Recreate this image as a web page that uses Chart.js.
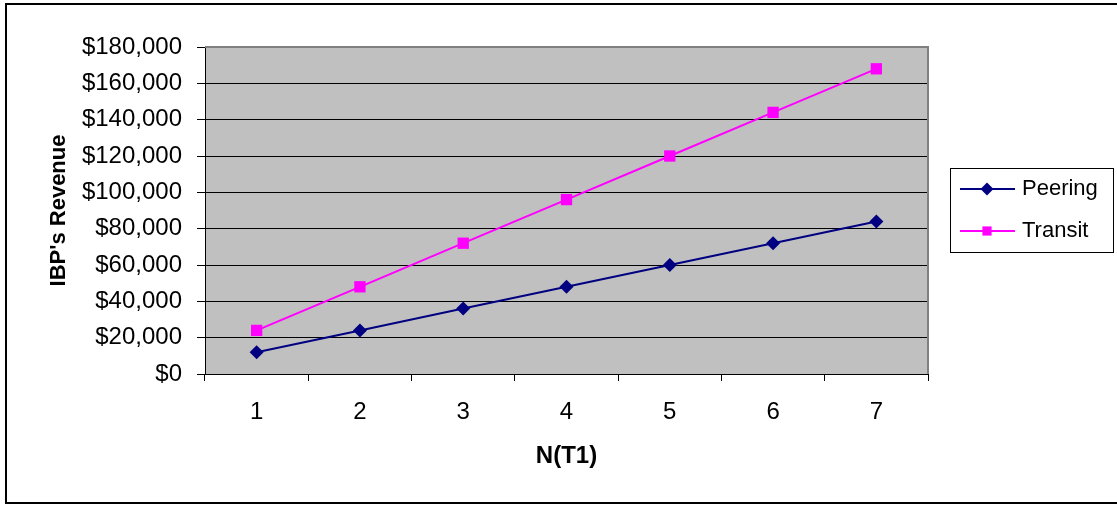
<!DOCTYPE html>
<html>
<head>
<meta charset="utf-8">
<style>
  html, body { margin: 0; padding: 0; background: #fff; }
  #wrap { width: 1117px; height: 506px; position: relative; }
</style>
<script src="https://cdn.jsdelivr.net/npm/chart.js@4/dist/chart.umd.min.js"></script>
</head>
<body>
<div id="wrap"><canvas id="c" width="1117" height="506"></canvas></div>
<script>
// Revenue per number of tier-1 connections
const categories = ['1', '2', '3', '4', '5', '6', '7'];
const peering = [12000, 24000, 36000, 48000, 60000, 72000, 84000];
const transit = [24000, 48000, 72000, 96000, 120000, 144000, 168000];
const yTicks = [0, 20000, 40000, 60000, 80000, 100000, 120000, 140000, 160000, 180000];

const FONT = "'Liberation Sans', Arial, sans-serif";

const fmtMoney = v => '$' + Number(v).toLocaleString('en-US');

// Plot background, outer frame and plot border
const framePlugin = {
  id: 'frame',
  beforeDraw(chart) {
    const {ctx, chartArea: a} = chart;
    ctx.save();
    ctx.fillStyle = '#fff';
    ctx.fillRect(0, 0, chart.width, chart.height);
    ctx.strokeStyle = '#000';
    ctx.lineWidth = 2;
    ctx.strokeRect(6, 4, chart.width + 20, 499);
    ctx.fillStyle = '#C0C0C0';
    ctx.fillRect(a.left, a.top, a.right - a.left, a.bottom - a.top);
    ctx.restore();
  },
  beforeDatasetsDraw(chart) {
    const {ctx, chartArea: a} = chart;
    ctx.save();
    ctx.strokeStyle = '#808080';
    ctx.lineWidth = 2;
    ctx.beginPath();
    ctx.moveTo(a.left, a.top);
    ctx.lineTo(a.right, a.top);
    ctx.lineTo(a.right, a.bottom);
    ctx.stroke();
    ctx.restore();
  }
};

// Boxed legend with line + marker samples
const boxLegend = {
  id: 'boxLegend',
  afterDraw(chart) {
    const {ctx} = chart;
    const x0 = 950.5, y0 = 168.5, w = 163, h = 84;
    ctx.save();
    ctx.fillStyle = '#fff';
    ctx.fillRect(x0, y0, w, h);
    ctx.strokeStyle = '#000';
    ctx.lineWidth = 1;
    ctx.strokeRect(x0, y0, w, h);
    chart.data.datasets.forEach((ds, i) => {
      const cy = 189 + i * 42;
      ctx.strokeStyle = ds.borderColor;
      ctx.lineWidth = 2;
      ctx.beginPath();
      ctx.moveTo(960, cy);
      ctx.lineTo(1015, cy);
      ctx.stroke();
      ctx.fillStyle = ds.pointBackgroundColor;
      ctx.strokeStyle = ds.pointBackgroundColor;
      Chart.helpers.drawPoint(ctx, {
        pointStyle: ds.pointStyle, radius: ds.legendRadius, rotation: 0, borderWidth: 0
      }, 987, cy);
      ctx.fillStyle = '#000';
      ctx.font = '22px ' + FONT;
      ctx.textAlign = 'left';
      ctx.textBaseline = 'middle';
      ctx.fillText(ds.label, 1022, cy);
    });
    ctx.restore();
  }
};

new Chart(document.getElementById('c'), {
  type: 'line',
  data: {
    labels: categories,
    datasets: [
      {
        label: 'Peering',
        data: peering,
        borderColor: '#000080',
        backgroundColor: '#000080',
        pointBackgroundColor: '#000080',
        pointBorderColor: '#000080',
        borderWidth: 2,
        pointStyle: 'rectRot',
        pointRadius: 7,
        pointBorderWidth: 0,
        legendRadius: 6.5,
        tension: 0
      },
      {
        label: 'Transit',
        data: transit,
        borderColor: '#FF00FF',
        backgroundColor: '#FF00FF',
        pointBackgroundColor: '#FF00FF',
        pointBorderColor: '#FF00FF',
        borderWidth: 2,
        pointStyle: 'rect',
        pointRadius: 8,
        pointBorderWidth: 0,
        legendRadius: 6.5,
        tension: 0
      }
    ]
  },
  options: {
    responsive: false,
    animation: false,
    devicePixelRatio: 1,
    layout: { padding: { top: 47, right: 189, bottom: 0, left: 0 } },
    plugins: {
      legend: { display: false },
      tooltip: { enabled: false }
    },
    scales: {
      x: {
        type: 'category',
        offset: true,
        grid: {
          offset: true,
          drawOnChartArea: false,
          drawTicks: true,
          tickLength: 7,
          tickColor: '#000',
          tickWidth: 1
        },
        border: { color: '#000', width: 1 },
        ticks: {
          color: '#000',
          font: { family: FONT, size: 24 },
          padding: 17,
          maxRotation: 0
        },
        title: {
          display: true,
          text: 'N(T1)',
          color: '#000',
          font: { family: FONT, size: 24, weight: 'bold' },
          padding: { top: 0, bottom: 35 }
        },
        afterFit(scale) { scale.height = 132; }
      },
      y: {
        min: 0,
        max: 180000,
        afterBuildTicks(scale) { scale.ticks = yTicks.map(v => ({ value: v })); },
        grid: {
          color: ctx => (ctx.tick && ctx.tick.value === 180000) ? '#808080' : '#000',
          lineWidth: 1,
          drawTicks: true,
          tickLength: 8,
          tickColor: '#000'
        },
        border: { color: '#000', width: 1 },
        ticks: {
          color: '#000',
          font: { family: FONT, size: 24 },
          padding: 15,
          callback: v => fmtMoney(v)
        },
        title: {
          display: true,
          text: "IBP's Revenue",
          color: '#000',
          font: { family: FONT, size: 22, weight: 'bold' },
          padding: { top: 46, bottom: 0 }
        },
        afterFit(scale) { scale.width = 205; }
      }
    }
  },
  plugins: [framePlugin, boxLegend]
});
</script>
</body>
</html>
